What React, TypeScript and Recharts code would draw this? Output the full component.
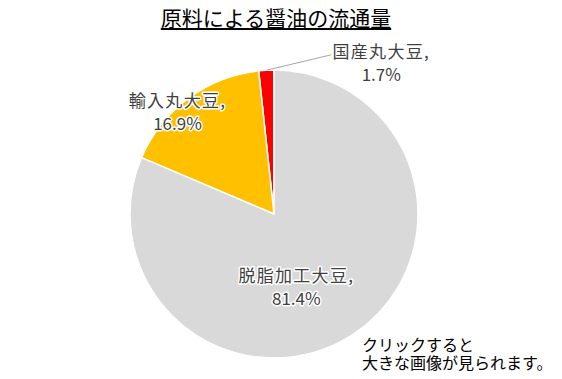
import React from 'react';
import { PieChart, Pie, Cell } from 'recharts';

const categories = ['国産丸大豆', '輸入丸大豆', '脱脂加工大豆'];
const shares = [1.7, 16.9, 81.4];
const colors = ['#FF0000', '#FFC000', '#D9D9D9'];
const title = '原料による醤油の流通量';
const noteLines = ['クリックすると', '大きな画像が見られます。'];

const data = categories.map((name, i) => ({ name, value: shares[i] }));

const FONT = '"Noto Sans CJK JP", "Noto Sans", sans-serif';

// label anchor offsets relative to pie centre, in units of outer radius
const labelOffsets = [
  { dx: 0.745, dy: -1.05 },
  { dx: -0.67, dy: -0.71 },
  { dx: 0.155, dy: 0.51 },
];

const renderLabel = (props: any) => {
  const { cx, cy, outerRadius, midAngle, index, name, value } = props;
  const off = labelOffsets[index];
  const x = cx + off.dx * outerRadius;
  const y = cy + off.dy * outerRadius;
  const RAD = Math.PI / 180;
  const textStyle: React.CSSProperties = {
    paintOrder: 'stroke',
  };
  return (
    <g key={`lbl-${index}`}>
      {index === 0 && (
        <line
          x1={cx + outerRadius * Math.cos(-midAngle * RAD)}
          y1={cy + outerRadius * Math.sin(-midAngle * RAD)}
          x2={x - 50}
          y2={y - 8}
          stroke="#A6A6A6"
          strokeWidth={1}
        />
      )}
      <text
        x={x}
        y={y - 5}
        textAnchor="middle"
        fontFamily={FONT}
        fontSize={17}
        letterSpacing={1.3}
        fill="#404040"
        stroke="#FFFFFF"
        strokeWidth={3}
        strokeLinejoin="round"
        style={textStyle}
      >
        {name},
      </text>
      <text
        x={x}
        y={y + 18}
        textAnchor="middle"
        fontFamily={FONT}
        fontSize={17}
        fill="#404040"
        stroke="#FFFFFF"
        strokeWidth={3}
        strokeLinejoin="round"
        style={textStyle}
      >
        {value.toFixed(1)}%
      </text>
    </g>
  );
};

export default function App() {
  return (
    <div style={{ position: 'absolute', left: 0, top: 0, width: 562, height: 379, background: '#fff' }}>
      <PieChart width={562} height={379} margin={{ top: 0, right: 0, bottom: 0, left: 0 }}>
        <Pie
          data={data}
          dataKey="value"
          nameKey="name"
          cx={274}
          cy={214}
          outerRadius={144}
          startAngle={90}
          endAngle={450}
          stroke="#FFFFFF"
          strokeWidth={1.5}
          label={renderLabel}
          labelLine={false}
          isAnimationActive={false}
        >
          {data.map((d, i) => (
            <Cell key={d.name} fill={colors[i]} />
          ))}
        </Pie>
      </PieChart>
      <div
        style={{
          position: 'absolute',
          left: 0,
          width: 552,
          top: 4,
          textAlign: 'center',
          fontFamily: FONT,
          fontSize: 21,
          color: '#000',
          textDecoration: 'underline',
          lineHeight: '26px',
        }}
      >
        {title}
      </div>
      {noteLines.map((l, i) => (
        <div
          key={l}
          style={{
            position: 'absolute',
            left: 362,
            top: 336 + i * 18,
            height: 16,
            fontFamily: FONT,
            fontSize: 16,
            color: '#000',
            lineHeight: '16px',
            whiteSpace: 'nowrap',
          }}
        >
          {l}
        </div>
      ))}
    </div>
  );
}
